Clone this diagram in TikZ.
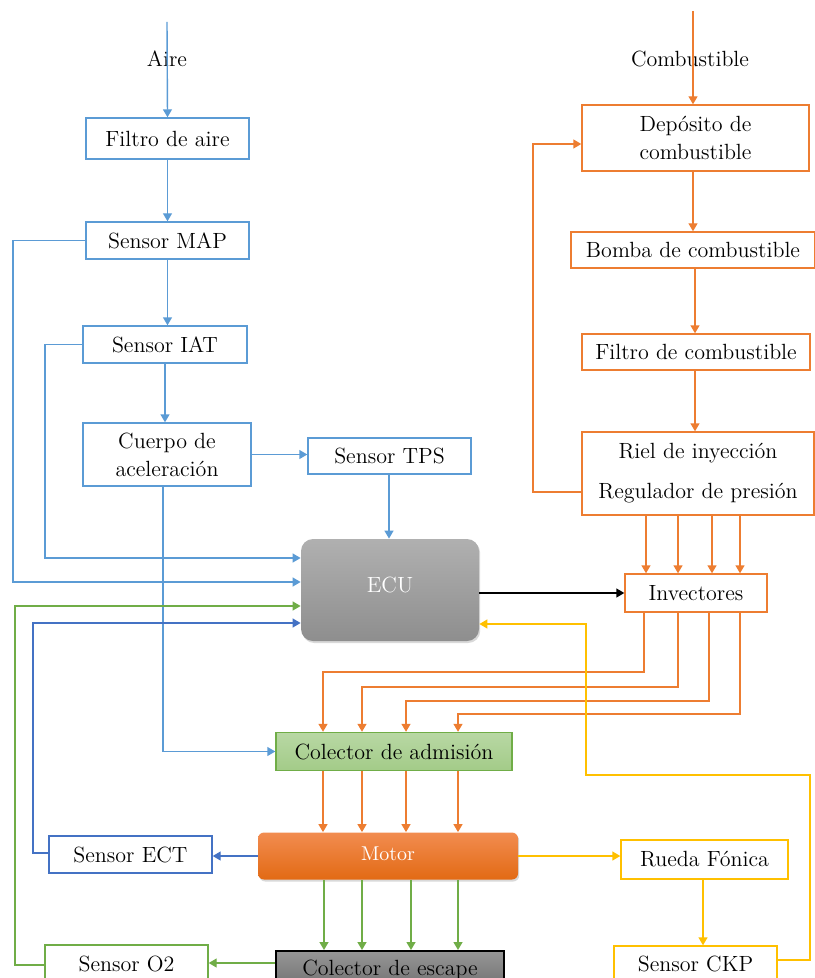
\documentclass[tikz,border=0pt]{standalone}
\usepackage{tikz}
\usetikzlibrary{arrows.meta,positioning,calc,shadows}
\definecolor{aireazul}{RGB}{91,155,213}
\definecolor{ectazul}{RGB}{68,114,196}
\definecolor{naranja}{RGB}{237,125,49}
\definecolor{verde}{RGB}{112,173,71}
\definecolor{amarillo}{RGB}{255,192,0}
\definecolor{ecuarriba}{RGB}{176,176,176}
\definecolor{ecuabajo}{RGB}{142,142,142}
\definecolor{motorarriba}{RGB}{242,140,80}
\definecolor{motorabajo}{RGB}{226,106,20}
\definecolor{admarriba}{RGB}{184,216,164}
\definecolor{admabajo}{RGB}{163,203,136}
\definecolor{escarriba}{RGB}{150,150,150}
\definecolor{escabajo}{RGB}{112,112,112}

\tikzset{
  caja/.style={draw,line width=0.7pt,fill=white,inner sep=0pt,align=center,font=\fontsize{11}{14}\selectfont},
  cajaaire/.style={caja,draw=aireazul},
  cajacomb/.style={caja,draw=naranja},
  cajaect/.style={caja,draw=ectazul},
  cajao2/.style={caja,draw=verde},
  cajackp/.style={caja,draw=amarillo},
  sombra/.style={drop shadow={opacity=0.3,shadow xshift=0.6pt,shadow yshift=-1pt}},
  etiqueta/.style={inner sep=0pt,font=\fontsize{11}{14}\selectfont},
  flecha/.style={line width=0.7pt,->},
}

\begin{document}
\begin{tikzpicture}[x=0.5pt,y=-0.5pt,>={Triangle[width=4.5pt,length=4pt]}]
\useasboundingbox (0,0) rectangle (814,978);

% lado del aire
\node[cajaaire,minimum width=81.5pt,minimum height=20.5pt] (filtro) at (167.5,138.5) {Filtro de aire};
\node[cajaaire,minimum width=81.5pt,minimum height=18.5pt] (map) at (167.5,240.5) {Sensor MAP};
\node[cajaaire,minimum width=82pt,minimum height=18.5pt] (iat) at (165,344.5) {Sensor IAT};
\node[cajaaire,minimum width=84pt,minimum height=31.5pt] (cuerpo) at (167,454.5) {Cuerpo de\\aceleración};
\node[cajaaire,minimum width=81.5pt,minimum height=18pt] (tps) at (389.5,456) {Sensor TPS};
\node[etiqueta] (aire) at (167,59) {Aire};
\coordinate (airetop) at (167,22);
\draw[flecha,aireazul] (airetop) -- (filtro.north);

% lado del combustible
\node[cajacomb,minimum width=113.5pt,minimum height=33pt] (deposito) at (695.5,138) {Depósito de\\combustible};
\node[cajacomb,minimum width=122pt,minimum height=18pt] (bomba) at (693,250) {Bomba de combustible};
\node[cajacomb,minimum width=114pt,minimum height=18pt] (filtroc) at (696,352) {Filtro de combustible};
\node[cajacomb,minimum width=116pt,minimum height=41.5pt] (riel) at (698,473.5) {Riel de inyección\\[6pt]Regulador de presión};
\node[cajacomb,minimum width=71pt,minimum height=19pt] (inv) at (696,593) {Invectores};
\node[etiqueta] (comb) at (690,59) {Combustible};
\coordinate (combtop) at (693,11);
\draw[flecha,naranja] (combtop) -- (deposito.north -| combtop);

% ECU, colectores y motor
\node[sombra,rounded corners=6pt,top color=ecuarriba,bottom color=ecuabajo,minimum width=89pt,minimum height=51pt,inner sep=0pt,font=\fontsize{11}{14}\selectfont,text=white] (ecu) at (390,590) {\raisebox{5pt}{ECU}};
\node[caja,draw=verde,top color=admarriba,bottom color=admabajo,minimum width=118pt,minimum height=19pt] (adm) at (394,751.5) {Colector de admisión};
\node[sombra,rounded corners=3pt,top color=motorarriba,bottom color=motorabajo,minimum width=130pt,minimum height=23.5pt,inner sep=0pt,font=\fontsize{10}{12}\selectfont,text=white] (motor) at (388,856) {\raisebox{2pt}{Motor}};
\node[caja,draw=black,line width=1pt,top color=escarriba,bottom color=escabajo,minimum width=114pt,minimum height=19pt] (escape) at (390,970) {Colector de escape};

% sensores de abajo
\node[cajaect,minimum width=81.5pt,minimum height=18.5pt] (ect) at (130.5,854.5) {Sensor ECT};
\node[cajao2,minimum width=81.5pt,minimum height=19pt] (o2) at (126.5,964) {Sensor O2};
\node[cajackp,minimum width=83.5pt,minimum height=19.5pt] (rueda) at (704.5,859.5) {Rueda Fónica};
\node[cajackp,minimum width=81.5pt,minimum height=18pt] (ckp) at (695.5,964) {Sensor CKP};

% conexiones del aire
\draw[flecha,aireazul] (filtro) -- (map);
\draw[flecha,aireazul] (map) -- (map |- iat.north);
\draw[flecha,aireazul] (iat) -- (iat |- cuerpo.north);
\draw[flecha,aireazul] (cuerpo.east) -- (tps.west |- cuerpo.east);
\draw[flecha,aireazul] (tps.south -| 389,0) -- (ecu.north -| 389,0);
\draw[flecha,aireazul] (iat.west) -| (45,558) -- (ecu.west |- 0,558);
\draw[flecha,aireazul] (map.west) -| (13,582) -- (ecu.west |- 0,582);
\draw[flecha,aireazul] (cuerpo.south -| 163,0) |- (adm.west);

% conexiones del combustible
\draw[flecha,naranja] (deposito.south -| combtop) -- (bomba.north -| combtop);
\draw[flecha,naranja] (bomba.south -| 695,0) -- (filtroc.north -| 695,0);
\draw[flecha,naranja] (filtroc.south -| 695,0) -- (riel.north -| 695,0);
\draw[flecha,naranja] (riel.west |- 0,492) -| (533,144) -- (deposito.west |- 0,144);
\foreach \x in {646,678,712,740}{
  \draw[flecha,naranja] (riel.south -| \x,0) -- (inv.north -| \x,0);
}
\draw[flecha,black] (ecu.east |- inv.west) -- (inv.west);
\foreach \a/\y/\b in {644/672/323,678/687/362,709/701/406,740/714/458}{
  \draw[flecha,naranja] (inv.south -| \a,0) |- (\b,\y) -- (adm.north -| \b,0);
}
\foreach \b in {323,362,406,458}{
  \draw[flecha,naranja] (adm.south -| \b,0) -- (motor.north -| \b,0);
}

% motor, escape y sensores
\draw[flecha,ectazul] (motor.west) -- (ect.east |- motor.west);
\draw[flecha,ectazul] (ect.west |- 0,853) -| (33,623) -- (ecu.west |- 0,623);
\foreach \b in {324,362,411,458}{
  \draw[flecha,verde] (motor.south -| \b,0) -- (escape.north -| \b,0);
}
\draw[flecha,verde] (escape.west |- 0,963) -- (o2.east |- 0,963);
\draw[flecha,verde] (o2.west |- 0,965) -| (15,606) -- (ecu.west |- 0,606);
\draw[flecha,amarillo] (motor.east) -- (rueda.west |- motor.east);
\draw[flecha,amarillo] (rueda.south -| 703,0) -- (ckp.north -| 703,0);
\draw[flecha,amarillo] (ckp.east |- 0,960) -| (810,775) -| (586,624) -- (ecu.east |- 0,624);
\end{tikzpicture}
\end{document}
